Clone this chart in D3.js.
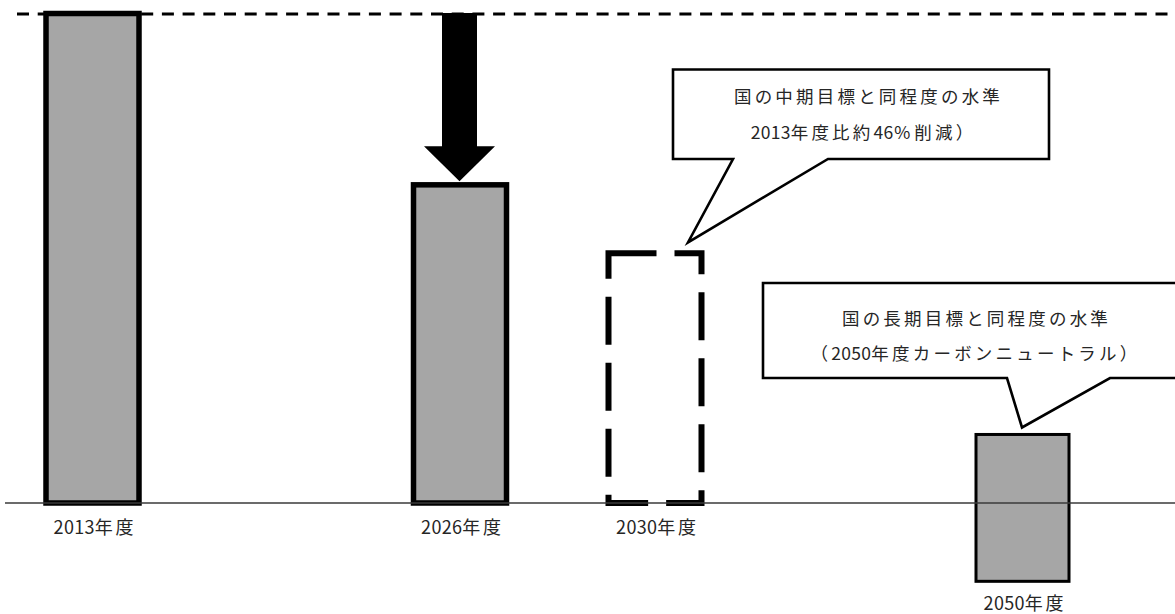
<!DOCTYPE html>
<html>
<head>
<meta charset="utf-8">
<script src="https://cdn.jsdelivr.net/npm/d3@7"></script>
<style>
  html, body { margin: 0; padding: 0; background: #ffffff; }
  svg { display: block; }
</style>
</head>
<body>
<div id="chart"></div>
<script>
// ---------------- data ----------------
const categories = ["2013年度", "2026年度", "2030年度", "2050年度"];
const years = [2013, 2026, 2030, 2050];
// index: 2013 level = 100
const barTop = [100, 65, 51, 14];
const barBottom = [0, 0, 0, -16];
const isNationalTarget = [false, false, true, false];
const referenceLevel = 100;
const reductionFrom = 100;
const reductionTo = 65;
const callout1Lines = ["国の中期目標と同程度の水準", "2013年度比約46％削減）"];
const callout2Lines = ["国の長期目標と同程度の水準", "（2050年度カーボンニュートラル）"];

// ---------------- layout ----------------
const W = 1175, H = 614;
const FONT = "'Noto Sans CJK JP', 'Noto Sans', sans-serif";
const svg = d3.select("#chart").append("svg")
  .attr("width", W).attr("height", H)
  .attr("viewBox", `0 0 ${W} ${H}`);

const x = d3.scaleLinear().domain(years).range([92.5, 460, 655, 1022.5]);
const y = d3.scaleLinear().domain([0, 100]).range([503, 13.5]);
const barW = 93;

// reference dashed line at 2013 level
svg.append("line")
  .attr("x1", 17).attr("x2", W)
  .attr("y1", y(referenceLevel) + 0.5).attr("y2", y(referenceLevel) + 0.5)
  .attr("stroke", "#000").attr("stroke-width", 3)
  .attr("stroke-dasharray", "12,8.7");

// bars
const data = years.map((yr, i) => ({
  yr, cat: categories[i], top: barTop[i], bottom: barBottom[i], nat: isNationalTarget[i]
}));

svg.selectAll("rect.bar").data(data).join("rect")
  .attr("class", "bar")
  .attr("x", d => x(d.yr) - barW / 2)
  .attr("width", barW)
  .attr("y", d => y(d.top))
  .attr("height", d => y(d.bottom) - y(d.top))
  .attr("fill", d => d.nat ? "none" : "#a6a6a6")
  .attr("stroke", "#000")
  .attr("stroke-width", d => d.nat ? 6 : (d.bottom < 0 ? 3 : 5.5))
  .attr("stroke-dasharray", d => d.nat ? "48,18" : null);

// baseline
svg.append("line")
  .attr("x1", 5).attr("x2", W)
  .attr("y1", y(0)).attr("y2", y(0))
  .attr("stroke", "#3a3a3a").attr("stroke-width", 1.4);

// reduction arrow (2013 -> 2026)
{
  const cx = x(2026) - 0.5;
  const yTop = y(reductionFrom) - 0.5;
  const yTip = y(reductionTo) - 3.5;
  const shaftHalf = 17.5, headHalf = 35.5, headLen = 35;
  const pts = [
    [cx - shaftHalf, yTop], [cx + shaftHalf, yTop],
    [cx + shaftHalf, yTip - headLen], [cx + headHalf, yTip - headLen],
    [cx, yTip],
    [cx - headHalf, yTip - headLen], [cx - shaftHalf, yTip - headLen]
  ];
  svg.append("path")
    .attr("d", d3.line()(pts) + "Z")
    .attr("fill", "#000");
}

// text helper: digits without extra spacing, others spaced
function spacedText(g, str, cx, cy, size, ls) {
  const t = g.append("text")
    .attr("x", cx).attr("y", cy)
    .attr("text-anchor", "middle")
    .attr("dominant-baseline", "central")
    .attr("font-family", FONT)
    .attr("font-size", size)
    .attr("fill", "#262626");
  const runs = str.match(/[0-9]+|[^0-9]+/g);
  runs.forEach(r => {
    t.append("tspan")
      .attr("letter-spacing", /^[0-9]/.test(r) ? 0.3 : ls)
      .text(r);
  });
  return t;
}

// category labels
data.forEach(d => {
  const base = Math.max(y(0), y(d.bottom));
  spacedText(svg, d.cat, x(d.yr) + 2.5, base + (d.bottom < 0 ? 20.5 : 23), 18, 2.8);
});

// callouts
function callout(box, tail, lines, lineYs, lineXs) {
  const g = svg.append("g");
  const p = d3.path();
  p.moveTo(box.x0, box.y0);
  p.lineTo(box.x1, box.y0);
  p.lineTo(box.x1, box.y1);
  p.lineTo(tail.r, box.y1);
  p.lineTo(tail.tx, tail.ty);
  p.lineTo(tail.l, box.y1);
  p.lineTo(box.x0, box.y1);
  p.closePath();
  g.append("path").attr("d", p.toString())
    .attr("fill", "#fff").attr("stroke", "#000").attr("stroke-width", 2.6)
    .attr("stroke-linejoin", "miter");
  lines.forEach((ln, i) => spacedText(g, ln, lineXs[i], lineYs[i], 17.5, 3.2));
}

callout(
  { x0: 673, y0: 69.5, x1: 1049, y1: 159 },
  { l: 733, r: 828, tx: x(2030) + 33, ty: y(barTop[2]) - 11 },
  callout1Lines, [95, 131], [868.5, 863.5]
);

callout(
  { x0: 763, y0: 283, x1: 1190, y1: 378 },
  { l: 1007, r: 1110, tx: x(2050) - 0.5, ty: y(barTop[3]) - 7 },
  callout2Lines, [317, 352], [976.5, 975.5]
);
</script>
</body>
</html>
